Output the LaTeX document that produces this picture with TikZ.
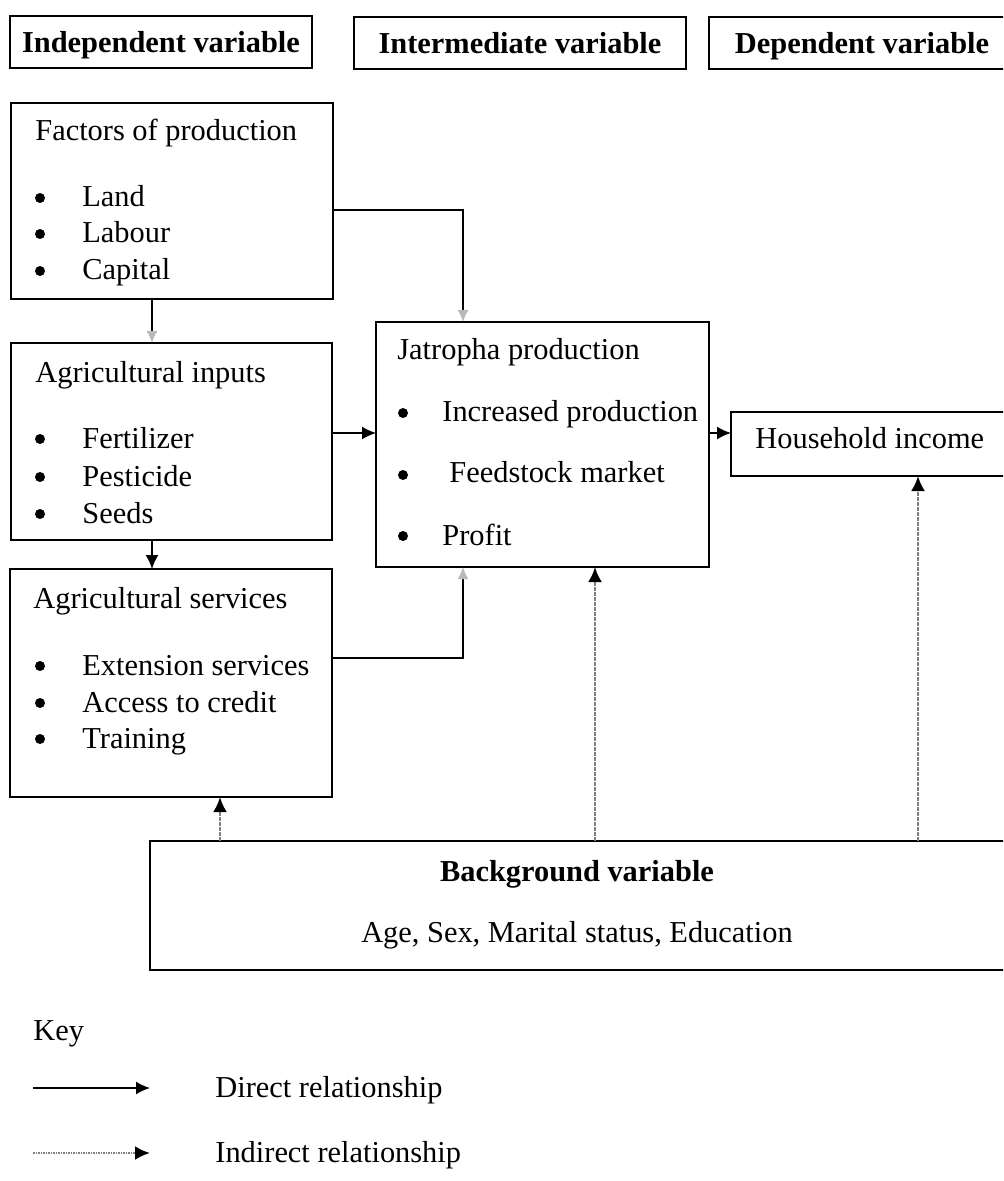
\documentclass[tikz,border=0pt]{standalone}
\usepackage{fontspec}
\setmainfont{Liberation Serif}
\usetikzlibrary{arrows.meta}
\begin{document}
\begin{tikzpicture}[x=0.5pt,y=-0.5pt,
  box/.style={draw, line width=1.1pt, rectangle, anchor=north west, inner sep=0pt, outer sep=0pt},
  hdr/.style={box, text depth=0pt, font=\fontsize{15.2}{18}\selectfont\bfseries},
  txt/.style={anchor=base west, inner sep=0pt, font=\fontsize{15.2}{18}\selectfont},
  btxt/.style={anchor=base, inner sep=0pt, font=\fontsize{15.2}{18}\selectfont\bfseries},
  ctxt/.style={anchor=base, inner sep=0pt, font=\fontsize{15.2}{18}\selectfont},
  bul/.style={circle, fill=black, inner sep=0pt, minimum size=5pt},
  conn/.style={line width=0.8pt, -{Latex[length=7pt,width=6.5pt]}},
  fconn/.style={line width=0.8pt, -{Latex[length=6pt,width=5.5pt,color=gray!55]}},
  dconn/.style={line width=1.2pt, draw=black!50, dash pattern=on 0.8pt off 0.45pt, -{Latex[length=7.5pt,width=7pt,color=black]}},
]
\useasboundingbox (0,0) rectangle (1003,1181);
\clip (0,0) rectangle (1003,1181);

% headers
\node[hdr, minimum width=151pt, minimum height=26pt] (hInd) at (10,16) {Independent variable};
\node[hdr, minimum width=166pt, minimum height=26pt] (hInt) at (354,17) {Intermediate variable};
\node[hdr, minimum width=153pt, minimum height=26pt] (hDep) at (709,17) {Dependent variable};

% boxes
\node[box, minimum width=161pt, minimum height=98pt] (fac) at (11,103) {};
\node[box, minimum width=160.5pt, minimum height=98.5pt] (inp) at (11,343) {};
\node[box, minimum width=161pt, minimum height=114pt] (srv) at (10,569) {};
\node[box, minimum width=166.5pt, minimum height=122.5pt] (jat) at (376,322) {};
\node[box, minimum width=142pt, minimum height=32pt] (hh) at (731,412) {};
\node[box, minimum width=427.5pt, minimum height=64.5pt] (bg) at (150,841) {};

% factors text
\node[txt] (facT) at (35,141) {Factors of production};
\node[bul] (facB1) at (40,198) {};
\node[bul] (facB2) at (40,234) {};
\node[bul] (facB3) at (40,271) {};
\node[txt] (facI1) at (82,207) {Land};
\node[txt] (facI2) at (82,243) {Labour};
\node[txt] (facI3) at (82,280) {Capital};

% inputs text
\node[txt] (inpT) at (35,383) {Agricultural inputs};
\node[bul] (inpB1) at (40,439) {};
\node[bul] (inpB2) at (40,477) {};
\node[bul] (inpB3) at (40,514) {};
\node[txt] (inpI1) at (82,448) {Fertilizer};
\node[txt] (inpI2) at (82,486) {Pesticide};
\node[txt] (inpI3) at (82,523) {Seeds};

% services text
\node[txt] (srvT) at (33,608) {Agricultural services};
\node[bul] (srvB1) at (40,666) {};
\node[bul] (srvB2) at (40,703) {};
\node[bul] (srvB3) at (40,739) {};
\node[txt] (srvI1) at (82,675) {Extension services};
\node[txt] (srvI2) at (82,712) {Access to credit};
\node[txt] (srvI3) at (82,748) {Training};

% jatropha text
\node[txt] (jatT) at (397,360) {Jatropha production};
\node[bul] (jatB1) at (403,413) {};
\node[bul] (jatB2) at (403,475) {};
\node[bul] (jatB3) at (403,536) {};
\node[txt] (jatI1) at (442,422) {Increased production};
\node[txt] (jatI2) at (449,482) {Feedstock market};
\node[txt] (jatI3) at (442,545) {Profit};

% household
\node[txt] (hhT) at (755,448) {Household income};

% background
\node[btxt] (bgT) at (577,881) {Background variable};
\node[ctxt] (bgI) at (577,942) {Age, Sex, Marital status, Education};

% helper coordinates
\coordinate (xA) at (152,0);
\coordinate (xJ) at (463,0);
\coordinate (yF) at (0,210);
\coordinate (yJ) at (0,433);
\coordinate (yS) at (0,658);
\coordinate (xB1) at (220,0);
\coordinate (xB2) at (595,0);
\coordinate (xB3) at (918,0);

% direct connectors
\draw[fconn] (fac.south -| xA) -- (inp.north -| xA);
\draw[conn] (inp.south -| xA) -- (srv.north -| xA);
\draw[fconn] (fac.east |- yF) -| (jat.north -| xJ);
\draw[conn] (inp.east |- yJ) -- (jat.west |- yJ);
\draw[conn] (jat.east |- yJ) -- (hh.west |- yJ);
\draw[fconn] (srv.east |- yS) -| (jat.south -| xJ);

% indirect connectors
\draw[dconn] (bg.north -| xB1) -- (srv.south -| xB1);
\draw[dconn] (bg.north -| xB2) -- (jat.south -| xB2);
\draw[dconn] (bg.north -| xB3) -- (hh.south -| xB3);

% key
\node[txt] (keyT) at (33,1040) {Key};
\coordinate (k1a) at (33,1088);
\coordinate (k1b) at (150,1088);
\coordinate (k2a) at (33,1153);
\coordinate (k2b) at (150,1153);
\draw[conn] (k1a) -- (k1b);
\draw[dconn] (k2a) -- (k2b);
\node[txt] (keyD) at (215,1097) {Direct relationship};
\node[txt] (keyI) at (215,1162) {Indirect relationship};
\end{tikzpicture}
\end{document}
